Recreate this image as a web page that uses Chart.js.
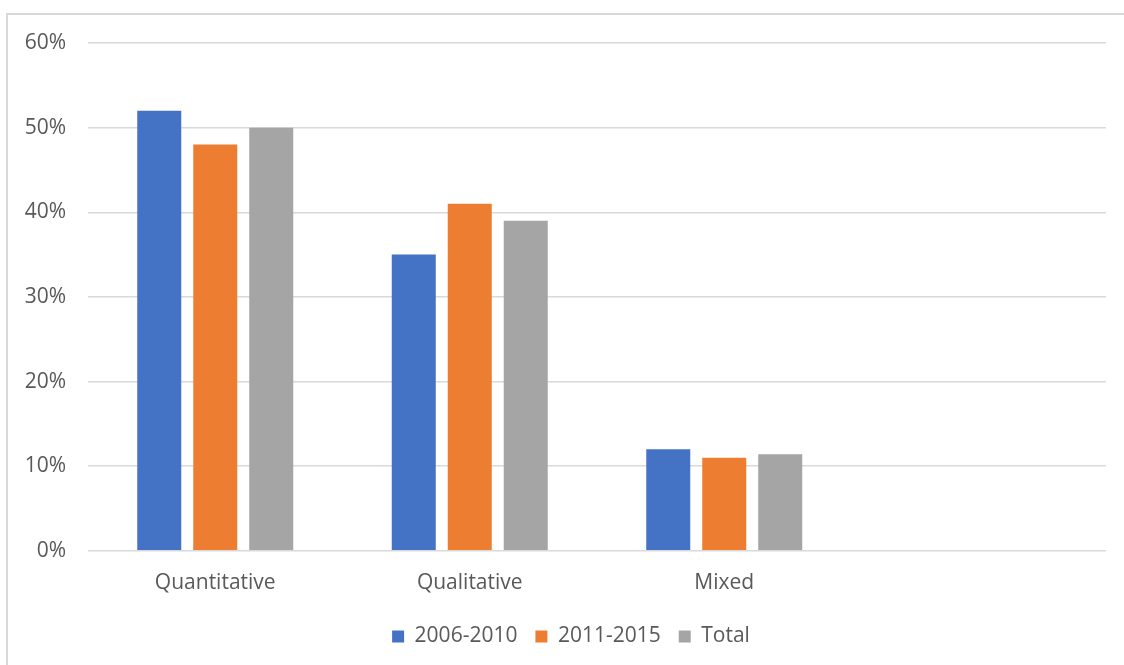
<!DOCTYPE html>
<html>
<head>
<meta charset="utf-8">
<script src="https://cdn.jsdelivr.net/npm/chart.js@4.4.1/dist/chart.umd.min.js"></script>
<style>
  html, body { margin: 0; padding: 0; background: #fff; overflow: hidden; }
  #frame { position: absolute; left: 6px; top: 13px; width: 1200px; height: 700px; border: 2px solid #d9d9d9; }
  #wrap { position: absolute; left: 0; top: 0; width: 1124px; height: 665px; }
</style>
</head>
<body>
<div id="frame"></div>
<div id="wrap"><canvas id="myChart"></canvas></div>
<script>
// categories (last slot left empty like the original sheet)
var categories = ["Quantitative", "Qualitative", "Mixed", ""];
var period1 = [52, 35, 12, null];   // 2006-2010
var period2 = [48, 41, 11, null];   // 2011-2015
var total = [50, 39, 11.4, null];
var tickValues = [0, 10, 20, 30, 40, 50, 60];

var font = { family: "'Open Sans', sans-serif", size: 21 };

// nudge the legend a bit to the right, like the original
var legendShift = {
  id: 'legendShift',
  afterLayout: function(chart) {
    chart.legend.left += 36;
  }
};

var config = {
  type: 'bar',
  data: {
    labels: categories,
    datasets: [
      { label: '2006-2010', data: period1, backgroundColor: 'rgb(68, 114, 196)' },
      { label: '2011-2015', data: period2, backgroundColor: 'rgb(237, 125, 49)' },
      { label: 'Total', data: total, backgroundColor: 'rgb(165, 165, 165)' }
    ]
  },
  options: {
    responsive: true,
    maintainAspectRatio: false,
    animation: false,
    datasets: { bar: { categoryPercentage: 0.66, barPercentage: 0.786 } },
    layout: { padding: { left: 0, right: 18, top: 43, bottom: 8 } },
    plugins: {
      tooltip: { enabled: false },
      legend: {
        display: true,
        position: 'bottom',
        labels: {
          font: font,
          color: '#595959',
          boxWidth: 12,
          boxHeight: 12,
          padding: 18
        }
      }
    },
    scales: {
      x: {
        grid: { display: false },
        border: { display: false },
        ticks: { font: font, color: '#595959', padding: 12, maxRotation: 0 }
      },
      y: {
        min: 0,
        max: 60,
        afterFit: function(scale) { scale.width = 88; },
        afterBuildTicks: function(scale) {
          scale.ticks = tickValues.map(function(v) { return { value: v }; });
        },
        grid: { color: '#d9d9d9', lineWidth: 1.5, drawTicks: false },
        border: { display: false },
        ticks: {
          font: font,
          color: '#595959',
          padding: 22,
          callback: function(v) { return v + '%'; }
        }
      }
    }
  },
  plugins: [legendShift]
};

new Chart(document.getElementById('myChart').getContext('2d'), config);
</script>
</body>
</html>
